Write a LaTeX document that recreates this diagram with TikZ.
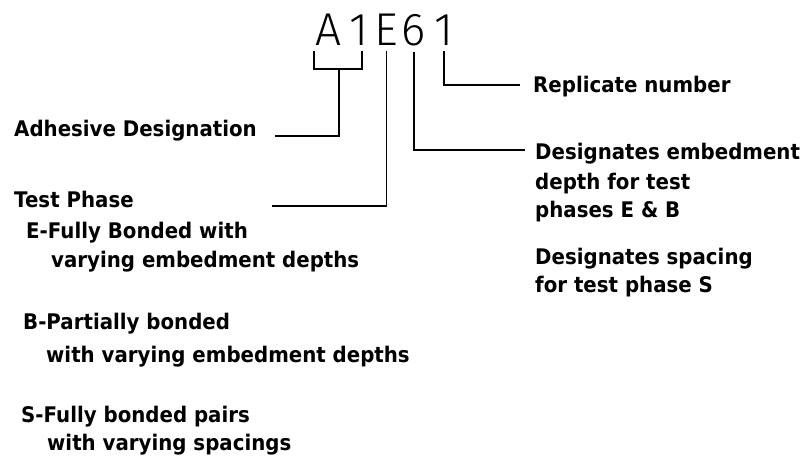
\documentclass[tikz,border=0pt]{standalone}
\usepackage{fontspec}
\setmainfont{DejaVu Sans}
\newfontfamily\labelfont{DejaVu Sans}[FakeStretch=0.92]
\newfontfamily\codefont{Fira Sans Light}
\usetikzlibrary{positioning,calc}
\tikzset{
  code/.style={font=\codefont\fontsize{46}{50}\selectfont, anchor=base,
               inner sep=0pt, outer sep=5pt},
  txt/.style={font=\labelfont\bfseries\fontsize{21.5}{25}\selectfont, anchor=base west, inner sep=0pt},
  lead/.style={line width=1.6pt},
}

\begin{document}
\begin{tikzpicture}[x=1pt, y=-1pt]
  \useasboundingbox (0,0) rectangle (803,462);

  % the specimen code
  \node[code] (cA) at (328,46) {A};
  \node[code] (c1) at (358.5,46) {1};
  \node[code] (cE) at (386.5,46) {E};
  \node[code] (c6) at (414,46) {6};
  \node[code] (cR) at (444,46) {1};

  % left side
  \node[txt] (adh) at (14,137) {Adhesive Designation};
  \node[txt] (phase) at (14,208) {Test Phase};
  \node[txt] (pE1) at (26,239) {E-Fully Bonded with};
  \node[txt] (pE2) at (51,268) {varying embedment depths};
  \node[txt] (pB1) at (23,330) {B-Partially bonded};
  \node[txt] (pB2) at (46,362) {with varying embedment depths};
  \node[txt] (pS1) at (21,422) {S-Fully bonded pairs};
  \node[txt] (pS2) at (47,450) {with varying spacings};

  % right side
  \node[txt] (repl) at (533,93) {Replicate number};
  \node[txt] (dep1) at (535,160) {Designates embedment};
  \node[txt] (dep2) at (535,190) {depth for test};
  \node[txt] (dep3) at (535,218) {phases E \& B};
  \node[txt] (spc1) at (535,265) {Designates spacing};
  \node[txt] (spc2) at (535,293) {for test phase S};

  \coordinate (adhEnd) at (275,136);
  \coordinate (phaseEnd) at (272,206);
  \coordinate (replEnd) at (520,85);
  \coordinate (depEnd) at (525,150);

  % leaders
  \draw[lead] ([xshift=-14pt]cA.south) -- ++(0,18) -| ([xshift=3.5pt]c1.south);
  \draw[lead] ([xshift=11pt]cA.south) ++(0,18) |- (adhEnd);
  \draw[lead] (cE.south) |- (phaseEnd);
  \draw[lead] (c6.south) |- (depEnd);
  \draw[lead] (cR.south) |- (replEnd);
\end{tikzpicture}
\end{document}
